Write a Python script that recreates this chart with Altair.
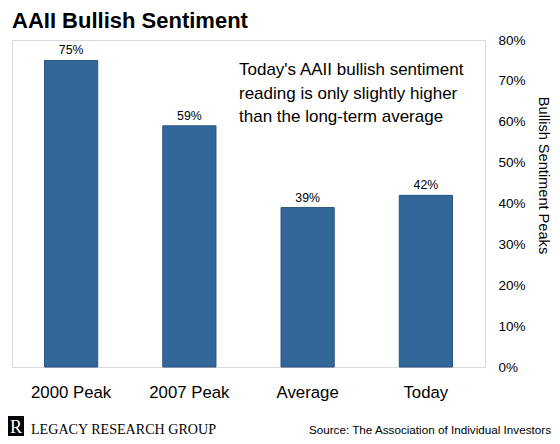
import altair as alt
import pandas as pd

# ---- data ----
categories = ["2000 Peak", "2007 Peak", "Average", "Today"]
values = [75, 59, 39, 42]
value_labels = ["75%", "59%", "39%", "42%"]
y_ticks = [0, 10, 20, 30, 40, 50, 60, 70, 80]
title_text = "AAII Bullish Sentiment"
y_title = "Bullish Sentiment Peaks"
note_lines = [
    "Today's AAII bullish sentiment",
    "reading is only slightly higher",
    "than the long-term average",
]
brand_text = "LEGACY RESEARCH GROUP"
source_text = "Source: The Association of Individual Investors"

SANS = "Liberation Sans, Arial, sans-serif"
SERIF = "Liberation Serif, Times New Roman, serif"
BAR_FILL = "#336699"
BAR_STROKE = "#2a5583"

df = pd.DataFrame({"category": categories, "value": values, "label": value_labels})

x_enc = alt.X(
    "category:N",
    sort=categories,
    scale=alt.Scale(paddingInner=0.55, paddingOuter=0.275),
    axis=alt.Axis(
        title=None, labelAngle=0, ticks=False, tickSize=0, domain=False, grid=False,
        labelPadding=30, labelBaseline="alphabetic", labelFontSize=16.8,
        labelFont=SANS, labelColor="black",
    ),
)
y_enc = alt.Y(
    "value:Q",
    scale=alt.Scale(domain=[0, 80], nice=False, zero=True),
    axis=alt.Axis(
        orient="right", values=y_ticks, labelExpr="datum.value + '%'",
        ticks=False, tickSize=0, domain=False, grid=False,
        labelPadding=13, labelFontSize=13.5, labelFont=SANS, labelColor="black",
        labelAlign="left", labelBaseline="middle",
        title=y_title, titleFont=SANS, titleFontSize=14.6, titleFontWeight="normal",
        titleColor="black", titleAngle=90, titleAlign="center",
        titleBaseline="alphabetic", titleX=53, titleY=135,
    ),
)

bars = alt.Chart(df).mark_bar(color=BAR_FILL, stroke=BAR_STROKE, strokeWidth=1).encode(
    x=x_enc, y=y_enc
)

bar_labels = alt.Chart(df).mark_text(
    font=SANS, fontSize=12.3, color="black", baseline="alphabetic", dy=-6
).encode(
    x=alt.X("category:N", sort=categories),
    y=alt.Y("value:Q"),
    text="label:N",
)

note = alt.Chart(pd.DataFrame({"t": ["\n".join(note_lines)]})).mark_text(
    font=SANS, fontSize=17, color="black", align="left", baseline="alphabetic",
    lineBreak="\n", lineHeight=23.5,
).encode(x=alt.value(227), y=alt.value(35), text="t:N")

title = alt.Chart(pd.DataFrame({"t": [title_text]})).mark_text(
    font=SANS, fontSize=22, fontWeight="bold", color="black", align="left",
    baseline="alphabetic",
).encode(x=alt.value(0), y=alt.value(-12), text="t:N")

logo_box = alt.Chart(pd.DataFrame({"t": [""]})).mark_rect(color="black").encode(
    x=alt.value(-4), x2=alt.value(12), y=alt.value(376), y2=alt.value(396)
)
logo_r = alt.Chart(pd.DataFrame({"t": ["R"]})).mark_text(
    font=SERIF, fontSize=18, color="white", align="center", baseline="alphabetic"
).encode(x=alt.value(4), y=alt.value(393), text="t:N")

brand = alt.Chart(pd.DataFrame({"t": [brand_text]})).mark_text(
    font=SERIF, fontSize=14.1, color="black", align="left", baseline="alphabetic"
).encode(x=alt.value(19), y=alt.value(394), text="t:N")

source = alt.Chart(pd.DataFrame({"t": [source_text]})).mark_text(
    font=SANS, fontSize=11.7, color="black", align="right", baseline="alphabetic"
).encode(x=alt.value(539), y=alt.value(394), text="t:N")

chart = (
    alt.layer(bars, bar_labels, note, title, logo_box, logo_r, brand, source)
    .properties(
        width=473,
        height=327,
        autosize=alt.AutoSizeParams(type="none"),
        padding={"left": 4, "top": 32, "right": 67, "bottom": 69},
        background="white",
    )
    .configure_view(stroke="#d9d9d9", strokeWidth=1)
)

chart.save("out.html", embed_options={"renderer": "svg", "actions": False})
